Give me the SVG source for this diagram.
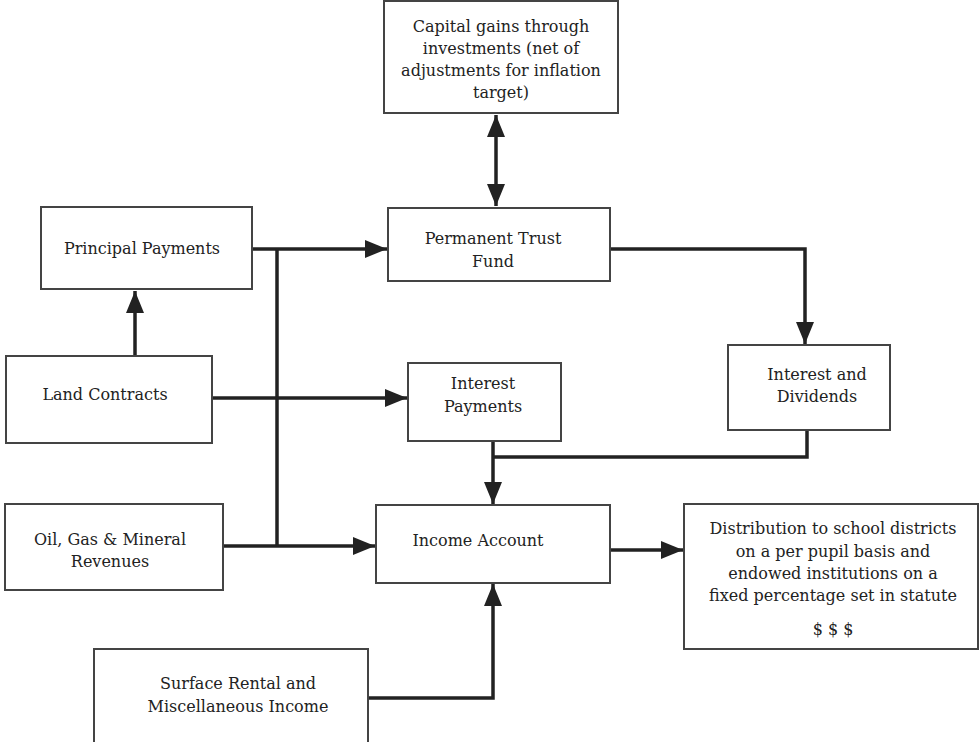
<svg xmlns="http://www.w3.org/2000/svg" width="980" height="742" viewBox="0 0 980 742">
<style>
.box{fill:#fff;stroke:#444;stroke-width:2}
.t{font-family:"DejaVu Serif","Liberation Serif",serif;font-size:16px;fill:#222;text-anchor:middle}
.c{fill:none;stroke:#222;stroke-width:3.5}
</style>
<defs>
<marker id="ah" markerUnits="userSpaceOnUse" markerWidth="24" markerHeight="18" refX="22" refY="9" orient="auto">
<path d="M0,0 L22,9 L0,18 Z" fill="#222"/>
</marker>
<marker id="as" markerUnits="userSpaceOnUse" markerWidth="24" markerHeight="18" refX="0" refY="9" orient="auto">
<path d="M22,0 L0,9 L22,18 Z" fill="#222"/>
</marker>
</defs>
<rect width="980" height="742" fill="#fff"/>
<g id="connectors">
<path class="c" d="M496,115 V206" marker-start="url(#as)" marker-end="url(#ah)"/>
<path class="c" d="M135,356 V291" marker-end="url(#ah)"/>
<path class="c" d="M252,249 H387" marker-end="url(#ah)"/>
<path class="c" d="M277,249 V546"/>
<path class="c" d="M212,398 H407" marker-end="url(#ah)"/>
<path class="c" d="M223,546 H375" marker-end="url(#ah)"/>
<path class="c" d="M610,249 H805 V344" marker-end="url(#ah)"/>
<path class="c" d="M807,430 V457 H493"/>
<path class="c" d="M493,441 V504" marker-end="url(#ah)"/>
<path class="c" d="M368,698 H493 V584" marker-end="url(#ah)"/>
<path class="c" d="M610,550 H683" marker-end="url(#ah)"/>
</g>
<g id="capital">
<rect class="box" x="384" y="1" width="234" height="112"/>
<text class="t" x="501" y="32">Capital gains through</text>
<text class="t" x="501" y="54">investments (net of</text>
<text class="t" x="501" y="76">adjustments for inflation</text>
<text class="t" x="501" y="98">target)</text>
</g>
<g id="principal">
<rect class="box" x="41" y="207" width="211" height="82"/>
<text class="t" x="142" y="254">Principal Payments</text>
</g>
<g id="ptf">
<rect class="box" x="388" y="208" width="222" height="73"/>
<text class="t" x="493" y="244">Permanent Trust</text>
<text class="t" x="493" y="267">Fund</text>
</g>
<g id="land">
<rect class="box" x="6" y="356" width="206" height="87"/>
<text class="t" x="105" y="400">Land Contracts</text>
</g>
<g id="interestpay">
<rect class="box" x="408" y="363" width="153" height="78"/>
<text class="t" x="483" y="389">Interest</text>
<text class="t" x="483" y="412">Payments</text>
</g>
<g id="dividends">
<rect class="box" x="728" y="345" width="162" height="85"/>
<text class="t" x="817" y="380">Interest and</text>
<text class="t" x="817" y="402">Dividends</text>
</g>
<g id="oil">
<rect class="box" x="5" y="504" width="218" height="86"/>
<text class="t" x="110" y="545">Oil, Gas &amp; Mineral</text>
<text class="t" x="110" y="567">Revenues</text>
</g>
<g id="income">
<rect class="box" x="376" y="505" width="234" height="78"/>
<text class="t" x="478" y="546">Income Account</text>
</g>
<g id="distribution">
<rect class="box" x="684" y="504" width="294" height="145"/>
<text class="t" x="833" y="534">Distribution to school districts</text>
<text class="t" x="833" y="557">on a per pupil basis and</text>
<text class="t" x="833" y="579">endowed institutions on a</text>
<text class="t" x="833" y="601">fixed percentage set in statute</text>
<text class="t" x="833" y="635">$ $ $</text>
</g>
<g id="surface">
<rect class="box" x="94" y="649" width="274" height="100"/>
<text class="t" x="238" y="689">Surface Rental and</text>
<text class="t" x="238" y="712">Miscellaneous Income</text>
</g>
</svg>
